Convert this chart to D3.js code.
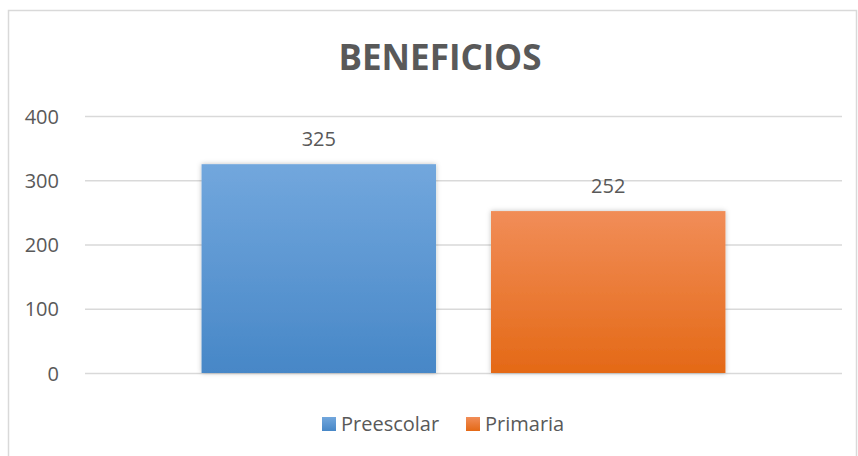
<!DOCTYPE html>
<html lang="es">
<head>
<meta charset="UTF-8">
<title>BENEFICIOS</title>
<script src="https://cdn.jsdelivr.net/npm/d3@7"></script>
<style>
    body { margin: 0; background: #fff; }
    text { font-family: "Open Sans", sans-serif; fill: #595959; }
    .axis path, .axis line { display: none; }
    .grid line { stroke: #d9d9d9; stroke-width: 1.5; }
    .grid path { display: none; }
</style>
</head>
<body>
<script>
    const categories = ['']
    const series = ['Preescolar', 'Primaria']
    const values = [325, 252]
    const yTicks = [0, 100, 200, 300, 400]

    const width = 858
    const height = 456
    const margin = { top: 116, right: 16, bottom: 83, left: 85 }

    const svg = d3.select('body').append('svg')
        .attr('width', width).attr('height', height)

    // outer chart border (bottom runs off the picture)
    svg.append('rect')
        .attr('x', 8.5).attr('y', 10.5)
        .attr('width', 848).attr('height', 460)
        .attr('fill', '#fff').attr('stroke', '#d9d9d9').attr('stroke-width', 1.5)

    const defs = svg.append('defs')
    const grads = [['#72a7dd', '#4787c7'], ['#f18d58', '#e46916']]
    grads.forEach((c, i) => {
        const g = defs.append('linearGradient').attr('id', 'g' + i)
            .attr('x1', 0).attr('y1', 0).attr('x2', 0).attr('y2', 1)
        g.append('stop').attr('offset', '0%').attr('stop-color', c[0])
        g.append('stop').attr('offset', '100%').attr('stop-color', c[1])
    })
    const f = defs.append('filter').attr('id', 'shadow')
        .attr('x', '-10%').attr('y', '-10%').attr('width', '120%').attr('height', '120%')
    f.append('feDropShadow').attr('dx', 0).attr('dy', 0).attr('stdDeviation', 2.5)
        .attr('flood-color', '#000').attr('flood-opacity', 0.25)

    const plotW = width - margin.left - margin.right
    const plotH = height - margin.top - margin.bottom

    const x0 = d3.scaleBand().domain(categories).range([0, plotW]).padding(0.182)
    const x1 = d3.scaleBand().domain(series).range([0, x0.bandwidth()]).paddingInner(0.19)
    const y = d3.scaleLinear().domain([0, 400]).range([plotH, 0])

    const g = svg.append('g').attr('transform', `translate(${margin.left},${margin.top})`)

    g.append('g').attr('class', 'grid')
        .call(d3.axisLeft(y).tickValues(yTicks).tickSize(-plotW).tickFormat(''))

    g.append('g').attr('class', 'axis')
        .attr('transform', 'translate(-23,0)')
        .call(d3.axisLeft(y).tickValues(yTicks).tickSize(0))
        .selectAll('text').style('font-size', '20px').attr('dy', '0.35em')

    const bars = g.selectAll('.bar')
        .data(series.map((s, i) => ({ s, v: values[i], i })))
        .enter()

    bars.append('rect')
        .attr('x', d => x0(categories[0]) + x1(d.s))
        .attr('y', d => y(d.v))
        .attr('width', x1.bandwidth())
        .attr('height', d => plotH - y(d.v))
        .attr('fill', d => `url(#g${d.i})`)
        .attr('filter', 'url(#shadow)')

    bars.append('text')
        .attr('x', d => x0(categories[0]) + x1(d.s) + x1.bandwidth() / 2)
        .attr('y', d => y(d.v) - 18)
        .attr('text-anchor', 'middle')
        .style('font-size', '20px')
        .text(d => d.v)

    svg.append('text')
        .attr('x', 440).attr('y', 70)
        .attr('text-anchor', 'middle')
        .style('font-size', '35px').style('font-weight', 'bold')
        .text('BENEFICIOS')

    // legend
    const legendX = [322, 466]
    const legend = svg.selectAll('.legend')
        .data(series).enter().append('g')
        .attr('transform', (d, i) => `translate(${legendX[i]},417)`)
    legend.append('rect').attr('width', 14).attr('height', 14)
        .attr('fill', (d, i) => `url(#g${i})`)
    legend.append('text').attr('x', 19).attr('y', 14)
        .style('font-size', '20px')
        .text(d => d)
</script>
</body>
</html>
